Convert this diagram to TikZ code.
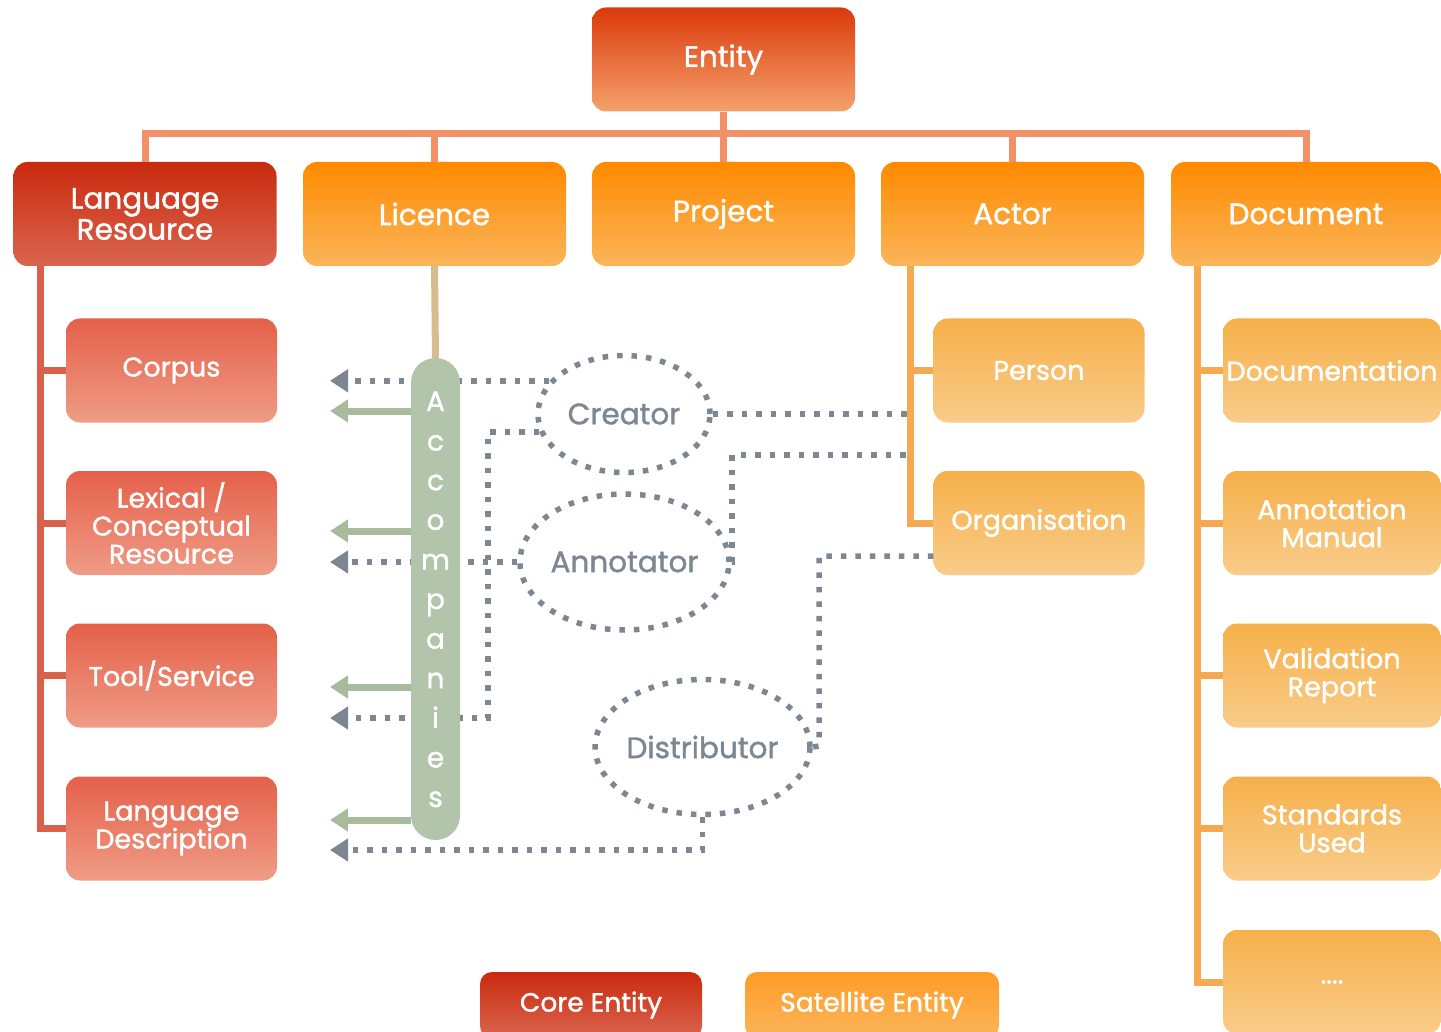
\documentclass[tikz,border=0pt]{standalone}
\usepackage{fontspec}
\setmainfont{Poppins}[UprightFeatures={FakeBold=1.3}]
\usetikzlibrary{arrows.meta,shapes.geometric,calc}

\definecolor{coreTop}{HTML}{C92A0E}
\definecolor{coreBot}{HTML}{DA654F}
\definecolor{entTop}{HTML}{DB390B}
\definecolor{entBot}{HTML}{F4A26C}
\definecolor{satTop}{HTML}{FF8A00}
\definecolor{satBot}{HTML}{FBB55A}
\definecolor{subTop}{HTML}{E5604A}
\definecolor{subBot}{HTML}{EF9C86}
\definecolor{satSubTop}{HTML}{F6B04A}
\definecolor{satSubBot}{HTML}{F9CC8A}
\definecolor{barCol}{HTML}{F2906A}
\definecolor{lrCol}{HTML}{D9604A}
\definecolor{satCol}{HTML}{F5AA52}
\definecolor{sage}{HTML}{B2C4A9}
\definecolor{sageDark}{HTML}{A8BC9D}
\definecolor{dotGray}{HTML}{7C8792}
\definecolor{licCol}{HTML}{D8BC8E}

\begin{document}
\begin{tikzpicture}[x=1pt,y=-1pt,
  box/.style={rounded corners=14pt, minimum width=263pt, minimum height=104pt,
    inner sep=0pt, text=white, align=center,
    font=\fontsize{29.5}{31}\selectfont},
  entitybox/.style={box, top color=entTop, bottom color=entBot},
  corebox/.style={box, top color=coreTop, bottom color=coreBot},
  satbox/.style={box, top color=satTop, bottom color=satBot},
  subbox/.style={box, minimum width=211pt, top color=subTop, bottom color=subBot,
    font=\fontsize{27}{28}\selectfont},
  satsubbox/.style={subbox, top color=satSubTop, bottom color=satSubBot},
  legendbox/.style={rounded corners=12pt, minimum height=66pt, inner sep=0pt,
    text=white, font=\fontsize{26.5}{28}\selectfont},
  tree/.style={line width=7pt},
  dotline/.style={draw=dotGray, line width=5.5pt, dash pattern=on 5.5pt off 9pt},
  dotarrow/.style={dotline, -{Triangle[length=18pt,width=22pt]}},
  greenarrow/.style={draw=sageDark, line width=7pt, -{Triangle[length=18pt,width=22pt]}},
  oval/.style={ellipse, dotline, inner sep=0pt, text=dotGray,
    font=\fontsize{29.5}{31}\selectfont},
  letter/.style={text=white, anchor=base, inner sep=0pt,
    font=\fontsize{28}{30}\selectfont},
]
\useasboundingbox (0,0) rectangle (1441,1032);

% ---- top level ----
\node[entitybox] (entity) at (723.5,59.5) {Entity};

\node[corebox] (lr)      at (145,214)    {Language\\Resource};
\node[satbox]  (licence) at (434.5,214)  {Licence};
\node[satbox]  (project) at (723.5,214)  {Project};
\node[satbox]  (actor)   at (1012.5,214) {Actor};
\node[satbox, minimum width=270pt] (doc) at (1306,214) {Document};

% ---- tree from Entity ----
\begin{scope}[barCol]
\foreach \n in {lr,licence,project,actor,doc}
  \draw[tree] (entity.south) -- ++(0,22) -| (\n.north);
\end{scope}

% ---- Language Resource children ----
\node[subbox] (corpus)  at (171.5,370.5) {Corpus};
\node[subbox] (lexical) at (171.5,523)   {Lexical /\\Conceptual\\Resource};
\node[subbox] (tool)    at (171.5,675.5) {Tool/Service};
\node[subbox] (langdesc)at (171.5,828.5) {Language\\Description};

\coordinate (lrbus) at (40,266);
\draw[tree, lrCol] (lrbus) |- (langdesc.west);
\foreach \n in {corpus,lexical,tool}
  \draw[tree, lrCol] (lrbus |- \n.west) -- (\n.west);

% ---- Actor children ----
\node[satsubbox] (person) at (1039,370.5) {Person};
\node[satsubbox] (org)    at (1039,523)   {Organisation};
\coordinate (actbus) at (910,266);
\draw[tree, satCol] (actbus) |- (org.west);
\draw[tree, satCol] (actbus |- person.west) -- (person.west);

% ---- Document children ----
\node[satsubbox, minimum width=218pt] (docu)   at (1332,370.5) {Documentation};
\node[satsubbox, minimum width=218pt] (annman) at (1332,523)   {Annotation\\Manual};
\node[satsubbox, minimum width=218pt] (valrep) at (1332,675.5) {Validation\\Report};
\node[satsubbox, minimum width=218pt] (stdu)   at (1332,828.5) {Standards\\Used};
\node[satsubbox, minimum width=218pt] (more)   at (1332,982)   {....};
\coordinate (docbus) at (1197,266);
\draw[tree, satCol] (docbus) |- (more.west);
\foreach \n in {docu,annman,valrep,stdu}
  \draw[tree, satCol] (docbus |- \n.west) -- (\n.west);

% ---- role ovals ----
\node[oval, minimum width=172pt, minimum height=117pt] (creator) at (624,414) {Creator};
\node[oval, minimum width=195pt, minimum height=136pt] (annot)   at (624.5,562) {Annotator};
\node[oval, minimum width=195pt, minimum height=135pt] (distrib) at (702.5,747) {Distributor};

% arrow ends on the left
\coordinate (tx) at (330,0);
\coordinate (j1) at (488,718);
\coordinate (j2) at (732,455);
\coordinate (j3) at (819,746);
\coordinate (t8) at (330,850);

% dotted role connectors
\draw[dotarrow] (creator.156) -- (creator.156 -| tx);
\draw[dotline]  (creator.east) -- (creator.east -| actbus);
\draw[dotline]  (annot.east) -| (j2) -- (j2 -| actbus);
\draw[dotarrow] (annot.west) -- (annot.west -| tx);
\draw[dotarrow] (creator.192) -| (j1) -- (j1 -| tx);
\draw[dotline]  ($(org.south west)+(0,-19)$) -| (j3) -- (distrib.east);
\draw[dotarrow] (distrib.south) |- (t8);

% ---- Accompanies ----
\node[rounded corners=24.5pt, fill=sage, minimum width=49pt, minimum height=482pt,
      inner sep=0pt] (acc) at (435.5,599) {};
\draw[line width=7pt, licCol] (licence.south) -- (acc.north);
\foreach \l [count=\i] in {A,c,c,o,m,p,a,n,i,e,s}
  \node[letter] (acc\i) at (435.5,{411+39.6*(\i-1)}) {\l};

\foreach \y in {411,531,687,820}
  \draw[greenarrow] (acc.west |- 0,\y) -- (tx |- 0,\y);

% ---- legend ----
\node[legendbox, minimum width=222pt, top color=coreTop, bottom color=coreBot]
  (legcore) at (591,1005) {Core Entity};
\node[legendbox, minimum width=254pt, top color=satTop!85!white, bottom color=satBot]
  (legsat) at (872,1005) {Satellite Entity};
\end{tikzpicture}
\end{document}
